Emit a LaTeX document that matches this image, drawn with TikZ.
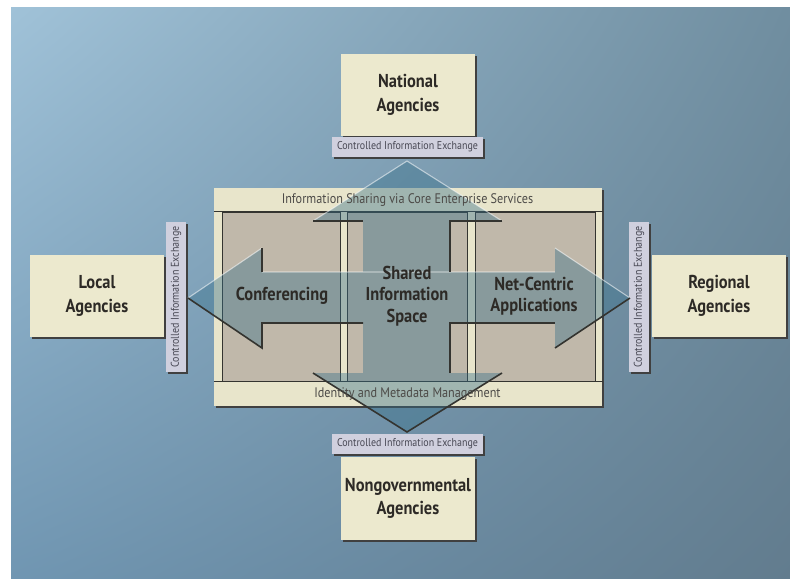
\documentclass[tikz,border=0pt]{standalone}
\usepackage{fontspec}
\setmainfont{PT Sans}[FakeStretch=0.88]
\usetikzlibrary{shadings}

\definecolor{bgtopleft}{RGB}{160,194,216}
\definecolor{bgtopright}{RGB}{112,142,160}
\definecolor{bgbotleft}{RGB}{112,150,178}
\definecolor{bgbotright}{RGB}{98,124,142}
\definecolor{agencyfill}{RGB}{236,233,206}
\definecolor{ciefill}{RGB}{208,208,222}
\definecolor{framefill}{RGB}{232,229,203}
\definecolor{panelfill}{RGB}{192,184,170}
\definecolor{arrowfill}{RGB}{52,110,136}
\definecolor{edgeink}{RGB}{52,52,48}
\definecolor{labelink}{RGB}{45,42,38}
\definecolor{cieink}{RGB}{72,72,84}

\tikzset{every picture/.style={line width=0.75pt}}

\tikzset{
  shadowed/.style={preaction={fill=black!75, transform canvas={shift={(1.5pt,-1.5pt)}}}},
  agency/.style={shadowed, fill=agencyfill, draw=none, minimum width=100.5pt, minimum height=62pt,
    inner sep=0pt, align=center, text=labelink, font=\bfseries\fontsize{14}{17.5}\selectfont},
  ciebar/.style={shadowed, fill=ciefill, draw=none, minimum width=113pt, minimum height=15pt,
    inner sep=0pt, text=cieink, font=\fontsize{8.5}{9}\selectfont},
  frame/.style={shadowed, fill=framefill, draw=none, minimum width=291pt, minimum height=163.5pt, inner sep=0pt},
  panel/.style={fill=panelfill, draw=edgeink, line width=0.5pt, minimum height=126.75pt, inner sep=0pt},
  panelline/.style={draw=edgeink, line width=0.5pt},
  bandtext/.style={inner sep=0.75pt, text=labelink!85, font=\fontsize{10.4}{12}\selectfont},
  bigtext/.style={inner sep=0.75pt, align=center, text=labelink, font=\bfseries\fontsize{14}{16}\selectfont},
  arrowedge/.style={draw=edgeink, line width=1.2pt},
  arrowlight/.style={draw=white, draw opacity=0.55, line width=0.8pt}
}

\begin{document}
\begin{tikzpicture}[x=0.75pt,y=0.75pt,yscale=-1,xscale=1]
\useasboundingbox (0,0) rectangle (790,579);

%Background
\shade[upper left=bgtopleft, upper right=bgtopright, lower left=bgbotleft, lower right=bgbotright] (11,7) rectangle (790,579);

%Agencies and exchanges
\node (national) [agency] at (408,95) {National\\Agencies};
\node (topcie) [ciebar] at (407.5,147) {Controlled Information Exchange};
\node (nongov) [agency] at (408,498.5) {Nongovernmental\\Agencies};
\node (botcie) [ciebar] at (407.5,444) {Controlled Information Exchange};
\node (local) [agency] at (97,296) {Local\\Agencies};
\node (leftcie) [ciebar, rotate=90] at (176,297) {Controlled Information Exchange};
\node (regional) [agency] at (719,296) {Regional\\Agencies};
\node (rightcie) [ciebar, rotate=90] at (639,297) {Controlled Information Exchange};

%Core frame
\node (frame) [frame] at (408,297) {};
\node (leftpanel) [panel, minimum width=88.5pt] at (281,296.5) {};
\node (midpanel) [panel, minimum width=90pt] at (407.5,296.5) {};
\node (rightpanel) [panel, minimum width=90pt] at (535,296.5) {};
\draw [panelline] (frame.west |- leftpanel.north) -- (frame.east |- leftpanel.north);
\draw [panelline] (frame.west |- leftpanel.south) -- (frame.east |- leftpanel.south);

%Four way arrow
\coordinate (ltip) at (188,298);
\coordinate (rtip) at (630,298);
\coordinate (ttip) at (407,161);
\coordinate (btip) at (407,432);
\fill [arrowfill, fill opacity=0.4] (ltip) -- (262,248) -- (262,272) -- (363,272) -- (363,221) -- (313,221) -- (ttip) -- (502,221) -- (450,221) -- (450,272) -- (555,272) -- (555,248) -- (rtip) -- (555,348) -- (555,323) -- (450,323) -- (450,373) -- (502,373) -- (btip) -- (313,373) -- (363,373) -- (363,323) -- (262,323) -- (262,348) -- cycle;
%light edges
\draw [arrowlight] (262,248) -- (ltip);
\draw [arrowlight] (313,221) -- (ttip) -- (502,221);
\draw [arrowlight] (555,248) -- (rtip);
\draw [arrowlight, draw opacity=0.3] (262,272) -- (555,272);
%dark edges
\draw [arrowedge] (262,248) -- (262,272);
\draw [arrowedge] (313,221) -- (363,221);
\draw [arrowedge] (502,221) -- (450,221) -- (450,272);
\draw [arrowedge] (ltip) -- (262,348) -- (262,323) -- (363,323);
\draw [arrowedge] (450,373) -- (450,323) -- (555,323);
\draw [arrowedge] (555,348) -- (rtip);
\draw [arrowedge] (313,373) -- (btip) -- (502,373);

% Text Node
\node (sharing) [bandtext] at (407.5,200) {Information Sharing via Core Enterprise Services};
% Text Node
\node (identity) [bandtext] at (407.5,394) {Identity and Metadata Management};
% Text Node
\node (conf) [bigtext] at (282,296) {Conferencing};
% Text Node
\node (shared) [bigtext] at (407,296) {Shared\\Information\\Space};
% Text Node
\node (netcentric) [bigtext] at (534,296) {Net-Centric\\Applications};

\end{tikzpicture}
\end{document}
